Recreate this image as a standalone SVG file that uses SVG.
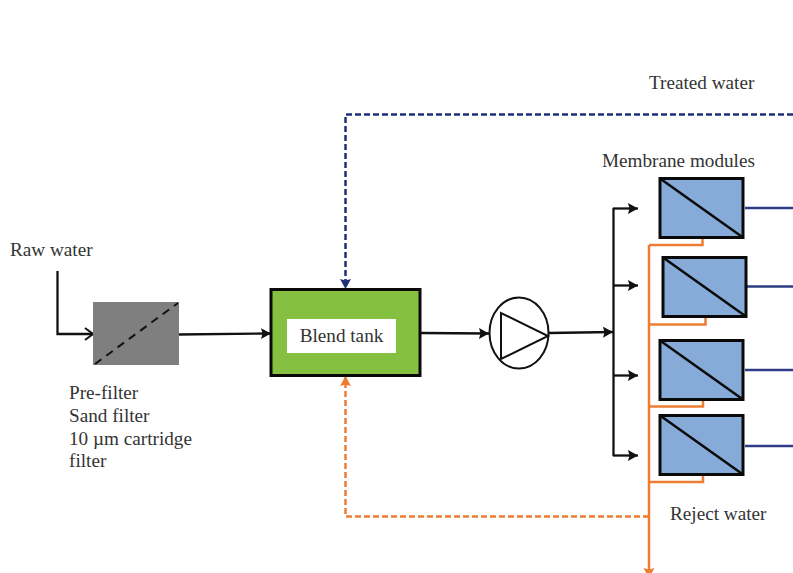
<svg xmlns="http://www.w3.org/2000/svg" width="793" height="573" viewBox="0 0 793 573">
<style>
text{font-family:"Liberation Serif","Times New Roman",serif;font-size:19.200px;fill:#333}
.k{fill:none;stroke:#111;stroke-width:2.300}
.m{fill:#86abd9;stroke:#0a0a0a;stroke-width:3}
.d{fill:none;stroke:#0a0a0a;stroke-width:2.500}
.b{fill:none;stroke:#2e3d85;stroke-width:2.300}
.o{fill:none;stroke:#ed7d31;stroke-width:2.500}
</style>
<defs>
<marker id="ak" markerUnits="userSpaceOnUse" markerWidth="11" markerHeight="12" refX="10" refY="6" orient="auto"><path d="M0 0.500L10 6L0 11.500L1.500 6Z" fill="#111"/></marker>
<marker id="an" markerUnits="userSpaceOnUse" markerWidth="11" markerHeight="14" refX="10" refY="7" orient="auto"><path d="M2 1L10 7L2 13" fill="none" stroke="#111" stroke-width="2"/></marker>
<marker id="ab" markerUnits="userSpaceOnUse" markerWidth="11" markerHeight="12" refX="10" refY="6" orient="auto"><path d="M0 0.500L10 6L0 11.500L1.500 6Z" fill="#1f2f7a"/></marker>
<marker id="ao" markerUnits="userSpaceOnUse" markerWidth="11" markerHeight="12" refX="10" refY="6" orient="auto"><path d="M0 0.500L10 6L0 11.500L1.500 6Z" fill="#ed7d31"/></marker>
</defs>
<rect width="793" height="573" fill="#fff"/>
<g id="connectors">
<path class="k" d="M57.500 271V334H93" marker-end="url(#an)"/>
<path class="k" d="M178 334.500L271 333.500" marker-end="url(#ak)"/>
<path class="k" d="M421 333L489 333.500" marker-end="url(#ak)"/>
<path class="k" d="M549 333L613 332" marker-end="url(#ak)"/>
<path class="k" d="M613.500 208V456"/>
<path class="k" d="M613 208.500H638" marker-end="url(#ak)"/>
<path class="k" d="M613 285.500H638" marker-end="url(#ak)"/>
<path class="k" d="M613 375.500H638" marker-end="url(#ak)"/>
<path class="k" d="M613 455.500H638" marker-end="url(#ak)"/>
<path class="b" stroke-dasharray="6 3" style="stroke:#1f2f7a;stroke-width:2.500" d="M793 114.500H345.500V289" marker-end="url(#ab)"/>
<path class="b" d="M745 208H793M747 286.500H793M745 370H793M745 446H793"/>
<path class="o" d="M649 245H702.500V238M649 324.500H705.500V318M649 406.500H703V400M649 482H703V475"/>
<path class="o" d="M649 245V578" marker-end="url(#ao)"/>
<path class="o" stroke-dasharray="6 3" d="M649 516.500H345.500V376" marker-end="url(#ao)"/>
</g>
<g id="raw-water"><text x="10" y="256">Raw water</text></g>
<g id="pre-filter">
<rect x="93" y="302" width="86" height="63" fill="#7f7f7f"/>
<path d="M95 364L178 303" fill="none" stroke="#111" stroke-width="2" stroke-dasharray="8 6"/>
<text x="69" y="399">Pre-filter</text>
<text x="69" y="422">Sand filter</text>
<text x="69" y="445">10 µm cartridge</text>
<text x="69" y="467">filter</text>
</g>
<g id="blend-tank">
<rect x="271" y="289.500" width="149" height="86" fill="#86c040" stroke="#0a0a0a" stroke-width="3"/>
<rect x="287" y="319" width="109" height="34" fill="#fff"/>
<text x="341.500" y="342" text-anchor="middle">Blend tank</text>
</g>
<g id="pump">
<ellipse cx="519" cy="333" rx="29.500" ry="35.500" fill="#fff" stroke="#111" stroke-width="2"/>
<path d="M501 313V359L548 336Z" fill="none" stroke="#111" stroke-width="2"/>
</g>
<g id="module-1"><rect class="m" x="660" y="178.500" width="83" height="59"/><path class="d" d="M660 178.500L743 237.500"/></g>
<g id="module-2"><rect class="m" x="663" y="257.500" width="83" height="59"/><path class="d" d="M663 257.500L746 316.500"/></g>
<g id="module-3"><rect class="m" x="660" y="340.500" width="83" height="59"/><path class="d" d="M660 340.500L743 399.500"/></g>
<g id="module-4"><rect class="m" x="660" y="415.500" width="83" height="59"/><path class="d" d="M660 415.500L743 474.500"/></g>
<g id="labels">
<text x="649" y="89">Treated water</text>
<text x="602" y="167">Membrane modules</text>
<text x="670" y="520">Reject water</text>
</g>
</svg>
